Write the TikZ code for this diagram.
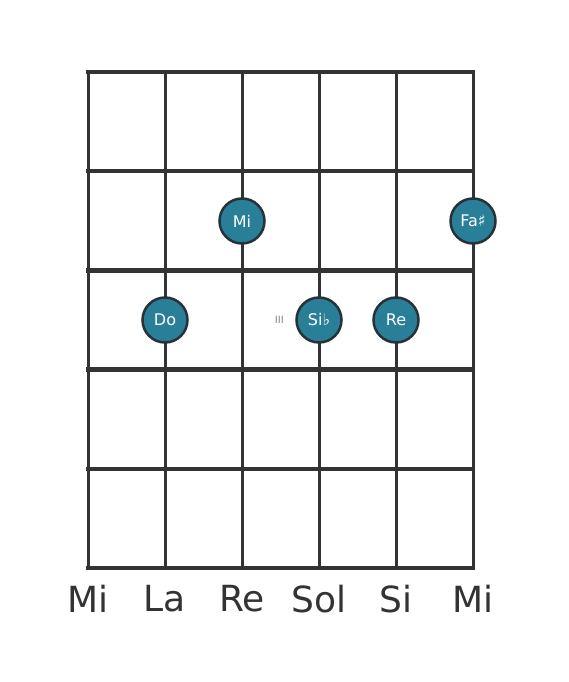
\documentclass[tikz,border=0pt]{standalone}
\usepackage{fontspec}
\setmainfont{DejaVu Sans}
\usepackage{tikz}
\usetikzlibrary{positioning, calc}

\begin{document}
\begin{tikzpicture}[x=1pt, y=-1pt, font=\fontsize{16}{18}\selectfont]
        % Define colors
        \definecolor{gridgray}{HTML}{333333}
        \definecolor{dotteal}{HTML}{2A7F98}
        \definecolor{dotline}{HTML}{263238}
        \tikzset{
            fret/.style={draw=gridgray, line width=4.5pt, line cap=rect},
            gstring/.style={draw=gridgray, line width=3pt},
            dot/.style={circle, fill=dotteal, draw=dotline, line width=2.5pt, text=white, minimum size=45pt, inner sep=0pt},
            strname/.style={text=gridgray, font=\fontsize{36}{40}\selectfont},
            fretnum/.style={text=gray, font=\fontsize{10}{12}\selectfont}
        }
        \useasboundingbox (0,0) rectangle (568,682);

        % Grid
        \foreach \i in {0,...,5} {
            \draw[gstring] (88+77*\i,72) -- (88+77*\i,568);
        }
        \foreach \j in {0,...,5} {
            \draw[fret] (88,72+99.2*\j) -- (473,72+99.2*\j);
        }

        % Nodes
        \node[dot] (mi) at (242,221) {Mi};
        \node[dot] (fa) at (473,221) {Fa♯};
        \node[dot] (do) at (165,320) {Do};
        \node[dot] (sib) at (319,320) {Si♭};
        \node[dot] (re) at (396,320) {Re};
        \node[fretnum, left=8pt of sib] (iii) {III};

        % String names
        \node[strname] (s1) at (88,599) {Mi};
        \node[strname] (s2) at (165,599) {La};
        \node[strname] (s3) at (242,599) {Re};
        \node[strname] (s4) at (319,599) {Sol};
        \node[strname] (s5) at (396,599) {Si};
        \node[strname] (s6) at (473,599) {Mi};
    \end{tikzpicture}
\end{document}
